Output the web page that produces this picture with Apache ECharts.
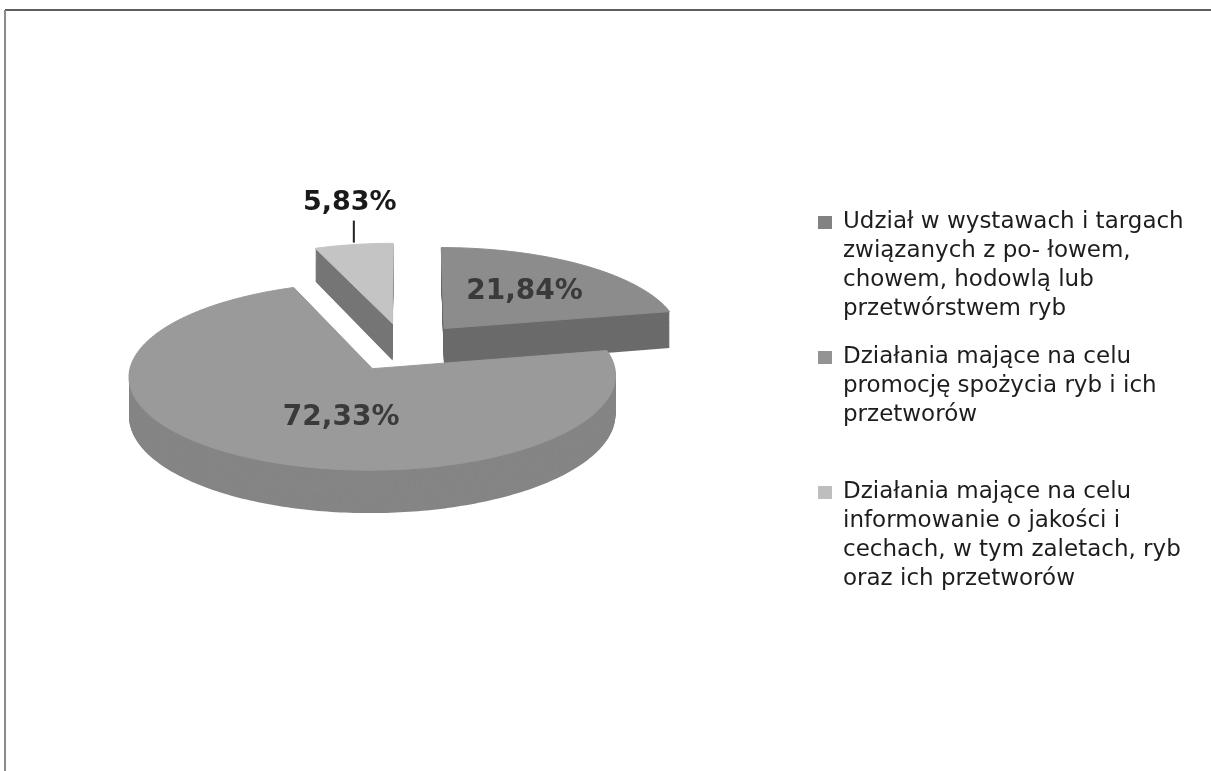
<!DOCTYPE html>
<html>
<head>
<meta charset="utf-8">
<script src="https://cdn.jsdelivr.net/npm/echarts@6/dist/echarts.min.js"></script>
<style>
html,body{margin:0;padding:0;background:#ffffff;}
#c{width:1211px;height:771px;}
</style>
</head>
<body>
<div id="c"></div>
<script>
// ---- data ----
const categories = [
  'Udział w wystawach i targach\nzwiązanych z po- łowem,\nchowem, hodowlą lub\nprzetwórstwem ryb',
  'Działania mające na celu\npromocję spożycia ryb i ich\nprzetworów',
  'Działania mające na celu\ninformowanie o jakości i\ncechach, w tym zaletach, ryb\noraz ich przetworów'
];
const values = [21.84, 72.33, 5.83];
const valueLabels = ['21,84%', '72,33%', '5,83%'];

// ---- styles / view ----
const view = { cx: 404, cy: 347, rx: 238, ry: 90, persp: 0.078, explode: 0.27, depth: 38, depthSlope: 4, layers: 44 };
const topColors = ['#8c8c8c', '#9a9a9a', '#c4c4c4'];
const sideColors = ['#6b6b6b', '#858585', '#757575'];
const legendColors = ['#828282', '#939393', '#bebebe'];
const labelPlace = [{ r: 0.57, f: 0.5 }, { r: 0.52, f: 0.44 }, { outside: true }];

const total = values.reduce((a, b) => a + b, 0);

function proj(X, Z, down) {
  const w = 1 + view.persp * Z;
  return [view.cx + view.rx * X / w,
          view.cy - view.ry * Z / w + down * (view.depth - view.depthSlope * Z)];
}

function makeRender(i) {
  return function (params, api) {
    const v = api.value(0);
    let start = 0;
    for (let k = 0; k < i; k++) start += values[k];
    const a0 = start / total * 2 * Math.PI;
    const a1 = (start + v) / total * 2 * Math.PI;
    const am = (a0 + a1) / 2;
    const ox = view.explode * Math.sin(am), oz = view.explode * Math.cos(am);
    const steps = Math.max(6, Math.ceil((a1 - a0) / (Math.PI / 180)));
    const pts = [[ox, oz]];
    for (let s = 0; s <= steps; s++) {
      const a = a0 + (a1 - a0) * s / steps;
      pts.push([ox + Math.sin(a), oz + Math.cos(a)]);
    }
    const children = [];
    for (let L = view.layers; L >= 1; L--) {
      const f = L / view.layers;
      children.push({
        type: 'polygon', z2: view.layers - L, silent: true,
        shape: { points: pts.map(p => proj(p[0], p[1], f)) },
        style: { fill: sideColors[i] }
      });
    }
    children.push({
      type: 'polygon', z2: view.layers + 1,
      shape: { points: pts.map(p => proj(p[0], p[1], 0)) },
      style: { fill: topColors[i], stroke: topColors[i], lineWidth: 1 }
    });
    const lp = labelPlace[i];
    if (lp.outside) {
      const R = proj(ox + Math.sin(am), oz + Math.cos(am), 0);
      children.push({
        type: 'line', z2: view.layers + 2,
        shape: { x1: R[0], y1: R[1] - 2, x2: R[0], y2: R[1] - 24 },
        style: { stroke: '#222', lineWidth: 2 }
      });
      children.push({
        type: 'text', z2: view.layers + 3, x: R[0] - 4, y: R[1] - 42,
        style: { text: valueLabels[i], fill: '#1a1a1a', font: 'bold 27px "DejaVu Sans"', align: 'center', verticalAlign: 'middle' }
      });
    } else {
      const a = a0 + (a1 - a0) * lp.f;
      const P = proj(ox + lp.r * Math.sin(a), oz + lp.r * Math.cos(a), 0);
      children.push({
        type: 'text', z2: view.layers + 3, x: P[0], y: P[1],
        style: { text: valueLabels[i], fill: '#3a3a3a', font: 'bold 28px "DejaVu Sans"', align: 'center', verticalAlign: 'middle' }
      });
    }
    return { type: 'group', children };
  };
}

const series = categories.map((name, i) => ({
  type: 'custom',
  name: name,
  coordinateSystem: 'none',
  itemStyle: { color: legendColors[i] },
  data: [[values[i]]],
  renderItem: makeRender(i)
}));

const chart = echarts.init(document.getElementById('c'), null, { renderer: 'canvas' });
chart.setOption({
  backgroundColor: '#ffffff',
  animation: false,
  legend: {
    orient: 'vertical',
    left: 813,
    top: 203,
    itemWidth: 20,
    itemHeight: 116,
    itemGap: 19,
    icon: 'path://M0,0L0,0M20,116L20,116M0,8h14v13h-14z',
    itemStyle: { borderWidth: 0 },
    textStyle: { fontFamily: 'DejaVu Sans', fontSize: 23, lineHeight: 29, color: '#1d1d1d' },
    formatter: function (name) {
      const n = name.split('\n').length;
      return name + '\n'.repeat(Math.max(0, 4 - n));
    },
    data: categories
  },
  graphic: [
    { type: 'line', shape: { x1: 5, y1: 10, x2: 1211, y2: 10 }, style: { stroke: '#5e5e5e', lineWidth: 2 } },
    { type: 'line', shape: { x1: 5, y1: 10, x2: 5, y2: 771 }, style: { stroke: '#8a8a8a', lineWidth: 2 } }
  ],
  series: series
});
</script>
</body>
</html>
